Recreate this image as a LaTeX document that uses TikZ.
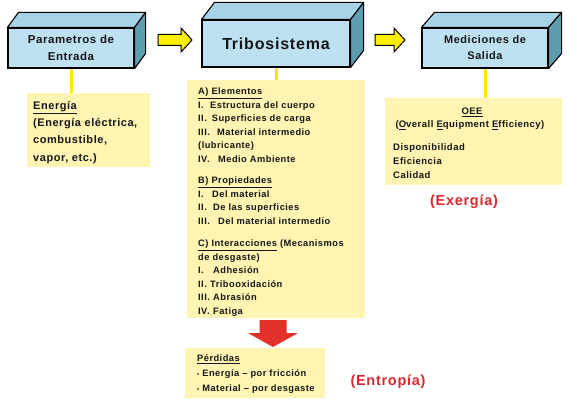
\documentclass[tikz,border=0pt]{standalone}
\usepackage{fontspec}
\setmainfont{Liberation Sans}[LetterSpace=5]
\usetikzlibrary{calc}
\definecolor{boxfront}{HTML}{BEE1F1}
\definecolor{boxtop}{HTML}{A8D3E6}
\definecolor{boxside}{HTML}{5E9DAE}
\definecolor{notefill}{HTML}{FFF4B2}
\definecolor{linkyellow}{HTML}{FFE600}
\definecolor{arrowyellow}{HTML}{FFF000}
\definecolor{lossred}{HTML}{E2312A}
\definecolor{labelred}{HTML}{D62A2E}
\definecolor{textdark}{HTML}{161616}
\newcommand\boxfaces[3]{%
  \filldraw[fill=boxtop,draw=black,line width=1.1pt,line join=round]
    (#1.north west) -- ($(#1.north west)+(#2,#3)$) -- ($(#1.north east)+(#2,#3)$) -- (#1.north east) -- cycle;
  \filldraw[fill=boxside,draw=black,line width=1.1pt,line join=round]
    (#1.north east) -- ($(#1.north east)+(#2,#3)$) -- ($(#1.south east)+(#2,#3)$) -- (#1.south east) -- cycle;
}
\newcommand\rn[2]{\makebox[#1pt][l]{#2}}
\begin{document}
\begin{tikzpicture}[x=1pt,y=-1pt,
  front/.style={draw=black,line width=1.1pt,fill=boxfront,inner sep=0pt,
    font=\bfseries,text=textdark,align=center},
  note/.style={fill=notefill,inner sep=0pt},
  notetext/.style={inner sep=0pt,align=left,text=textdark},
  link/.style={draw=linkyellow,line width=3pt},
  yarrow/.style={draw=black,line width=1pt,fill=arrowyellow,line join=miter},
  rarrow/.style={fill=lossred},
  redlabel/.style={inner sep=0pt,text=labelred,font=\fontsize{14.5}{16}\selectfont\bfseries}
]
\fill[white] (0,0) rectangle (567,401);
\useasboundingbox (0,0) rectangle (567,401);

% 3D boxes
\node[front,minimum width=126pt,minimum height=40pt,
  font=\fontsize{11.5}{16.5}\selectfont\bfseries] (b1) at (71,48) {Parametros de\\Entrada};
\boxfaces{b1}{11}{-15}
\node[front,minimum width=148pt,minimum height=47pt,
  font=\fontsize{16}{18}\selectfont\bfseries] (b2) at (276,43.5) {Tribosistema};
\boxfaces{b2}{13}{-17}
\node[front,minimum width=126pt,minimum height=40pt,
  font=\fontsize{11}{16}\selectfont\bfseries] (b3) at (485,48) {Mediciones de\\Salida};
\boxfaces{b3}{13}{-15}

% yellow block arrows
\coordinate (a1) at (158,40);
\draw[yarrow] (a1) ++(0,-5.5) -- ++(23,0) -- ++(0,-6.5) -- ++(11,12) -- ++(-11,12)
  -- ++(0,-6.5) -- ++(-23,0) -- cycle;
\coordinate (a2) at (375,40);
\draw[yarrow] (a2) ++(0,-5.5) -- ++(19,0) -- ++(0,-6.5) -- ++(11,12) -- ++(-11,12)
  -- ++(0,-6.5) -- ++(-19,0) -- cycle;

% notes
\node[note,minimum width=123pt,minimum height=74pt] (t1) at (88.5,130) {};
\node[note,minimum width=178pt,minimum height=238pt] (t2) at (276,199) {};
\node[note,minimum width=177pt,minimum height=87pt] (t3) at (473.5,141.5) {};
\node[note,minimum width=140pt,minimum height=50pt] (t4) at (255,373) {};

% yellow links
\draw[link] (b1.south) -- (b1.south |- t1.north);
\draw[link] (b2.south) -- (b2.south |- t2.north);
\draw[link] (b3.south) -- (b3.south |- t3.north);

% red arrow
\coordinate (r1) at (273,320);
\fill[rarrow] (r1) ++(-13.5,0) -- ++(27,0) -- ++(0,13) -- ++(11.5,0) -- ++(-25,14)
  -- ++(-25,-14) -- ++(11.5,0) -- cycle;

% texts
\node[notetext,anchor=north west,font=\fontsize{11}{17.3}\selectfont\bfseries] (e1) at (33,101)
  {\underline{Energía}\\(Energía eléctrica,\\combustible,\\vapor, etc.)};

\node[notetext,anchor=north west,font=\fontsize{9.3}{13.5}\selectfont\bfseries] (e2) at (198,87.6)
  {\underline{A) Elementos}\\
   \rn{12}{I.}Estructura del cuerpo\\
   \rn{13.7}{II.}Superficies de carga\\
   \rn{19}{III.}Material intermedio\\
   (lubricante)\\
   \rn{20}{IV.}Medio Ambiente\\[8.3pt]
   \underline{B) Propiedades}\\
   \rn{14}{I.}Del material\\
   \rn{15}{II.}De las superficies\\
   \rn{20}{III.}Del material intermedio\\[8.7pt]
   \underline{C) Interacciones} (Mecanismos\\
   de desgaste)\\
   \rn{15}{I.}Adhesión\\
   \rn{12}{II.}Tribooxidación\\
   \rn{15}{III.}Abrasión\\
   \rn{15}{IV.}Fatiga};

\node[notetext,font=\fontsize{9.5}{13.5}\selectfont\bfseries] (e3) at (472,112) {\underline{OEE}};
\node[notetext,font=\fontsize{9.5}{13.5}\selectfont\bfseries] (e4) at (470,125.5)
  {(\underline{O}verall \underline{E}quipment \underline{E}fficiency)};
\node[notetext,anchor=north west,font=\fontsize{9.5}{14}\selectfont\bfseries] (e5) at (393,143.5)
  {Disponibilidad\\Eficiencia\\Calidad};

\node[notetext,anchor=north west,font=\fontsize{9.3}{15}\selectfont\bfseries] (e6) at (197,354.6)
  {\underline{Pérdidas}\\{\fontsize{6}{6}\selectfont•}\ Energía -- por fricción\\{\fontsize{6}{6}\selectfont•}\ Material -- por desgaste};

\node[redlabel] (x1) at (464,202) {(Exergía)};
\node[redlabel] (x2) at (388,382) {(Entropía)};
\end{tikzpicture}
\end{document}
